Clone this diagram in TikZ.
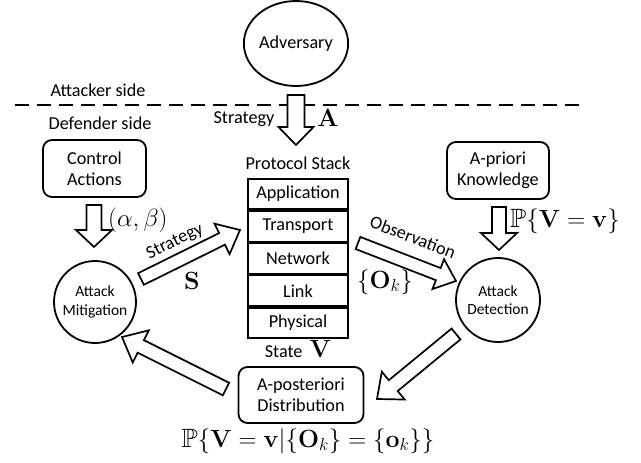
\documentclass[tikz,border=0pt]{standalone}
\usepackage[no-math]{fontspec}
\setmainfont{Carlito}
\usepackage{amsmath,amssymb}
\usetikzlibrary{calc,shapes.geometric}
\newcommand{\blockarr}[5]{%
\draw[barr] let \p1=(#1), \p2=(#2), \n1={atan2(\y2-\y1,\x2-\x1)}, \n2={veclen(\x2-\x1,\y2-\y1)-#5} in
 ($(\p1)+(\n1+90:#3)$) -- ($(\p1)+(\n1:\n2)+(\n1+90:#3)$) -- ($(\p1)+(\n1:\n2)+(\n1+90:#4)$) -- (\p2)
 -- ($(\p1)+(\n1:\n2)+(\n1-90:#4)$) -- ($(\p1)+(\n1:\n2)+(\n1-90:#3)$) -- ($(\p1)+(\n1-90:#3)$) -- cycle;}
\newcommand{\txt}{\fontsize{18.2}{21}\selectfont}
\newcommand{\smtxt}{\fontsize{15.5}{18.5}\selectfont}
\newcommand{\mth}{\fontsize{26.5}{30}\selectfont}
\tikzset{
  barr/.style={draw, fill=white, line width=1.7pt, line join=miter},
  roundbox/.style={draw, line width=1.8pt, rounded corners=9pt, align=center, font=\txt, inner sep=0pt},
  circnode/.style={draw, circle, line width=1.8pt, align=center, font=\smtxt, inner sep=0pt},
  layer/.style={draw, line width=1.8pt, minimum width=100pt, minimum height=30.4pt, anchor=north, font=\txt, inner sep=0pt},
  lbl/.style={font=\txt, inner sep=0pt},
  mlbl/.style={font=\mth, inner sep=0pt}
}
\begin{document}
\begin{tikzpicture}[x=1pt,y=-1pt]
\useasboundingbox (0,0) rectangle (641,463);
% adversary
\node[draw, ellipse, line width=1.8pt, minimum width=90pt, minimum height=85pt, font=\txt, inner sep=0pt] (adv) at (296,43.5) {Adversary};
\node[lbl] (att) at (98,90) {Attacker side};
\node[lbl] (def) at (100,123) {Defender side};
\coordinate (dl) at (15,105);
\coordinate (dr) at (582,105);
\draw[line width=2.5pt, dash pattern=on 14pt off 8pt] (dl) -- (dr);
% strategy A arrow
\coordinate (a1) at (296,95);
\coordinate (a2) at (296,145);
\blockarr{a1}{a2}{8.5pt}{17.5pt}{18pt}
\node[lbl] (strA) at (244,119) {Strategy};
\node[mlbl] (A) at (328,118) {$\mathbf{A}$};
% control actions
\node[roundbox, minimum width=103pt, minimum height=57pt] (ctrl) at (94.5,168.5) {Control\\Actions};
\coordinate (c1) at (94,205);
\coordinate (c2) at (94,247);
\blockarr{c1}{c2}{7.5pt}{18pt}{17pt}
\node[mlbl, anchor=west] (ab) at (108,220) {$(\alpha,\beta)$};
% mitigation
\node[circnode, minimum size=82pt] (mit) at (95,302) {Attack\\Mitigation};
% strategy S arrow
\coordinate (s1) at (141,279);
\coordinate (s2) at (240,230);
\blockarr{s1}{s2}{6.5pt}{17pt}{20pt}
\node[lbl, rotate=26] (strS) at (175,242) {Strategy};
\node[mlbl] (S) at (192,281) {$\mathbf{S}$};
% protocol stack
\node[lbl] (ps) at (298,163) {Protocol Stack};
\node[layer] (l1) at (298,178) {Application};
\node[layer] (l2) at (l1.south) {Transport};
\node[layer] (l3) at (l2.south) {Network};
\node[layer] (l4) at (l3.south) {Link};
\node[layer] (l5) at (l4.south) {Physical};
\node[lbl] (st) at (298,349) {State \,{\mth$\mathbf{V}$}};
% a-priori
\node[roundbox, minimum width=102pt, minimum height=57pt] (apr) at (498,170.5) {A-priori\\Knowledge};
\coordinate (p1) at (499,207);
\coordinate (p2) at (499,250);
\blockarr{p1}{p2}{7pt}{18pt}{17pt}
\node[mlbl, anchor=west] (pv) at (510,221) {$\mathbb{P}\{\mathbf{V}=\mathbf{v}\}$};
% detection
\node[circnode, minimum size=84pt] (det) at (498,300) {Attack\\Detection};
% observation arrow
\coordinate (o1) at (358,243);
\coordinate (o2) at (456,281);
\blockarr{o1}{o2}{6.5pt}{16pt}{19pt}
\node[lbl, rotate=-21] (obs) at (413,237) {Observation};
\node[mlbl] (Ok) at (385,282) {$\{\mathbf{O}_k\}$};
% a-posteriori
\node[roundbox, minimum width=125pt, minimum height=56pt] (apo) at (301,395) {A-posteriori\\Distribution};
\node[mlbl] (post) at (308,441) {$\mathbb{P}\{\mathbf{V}=\mathbf{v}|\{\mathbf{O}_k\}=\{\mathbf{o}_k\}\}$};
% detection -> a-posteriori
\coordinate (d1) at (456,334);
\coordinate (d2) at (377,399);
\blockarr{d1}{d2}{7pt}{18pt}{21pt}
% a-posteriori -> mitigation
\coordinate (m1) at (226,389);
\coordinate (m2) at (122,337);
\blockarr{m1}{m2}{7pt}{18pt}{21pt}
\end{tikzpicture}
\end{document}
